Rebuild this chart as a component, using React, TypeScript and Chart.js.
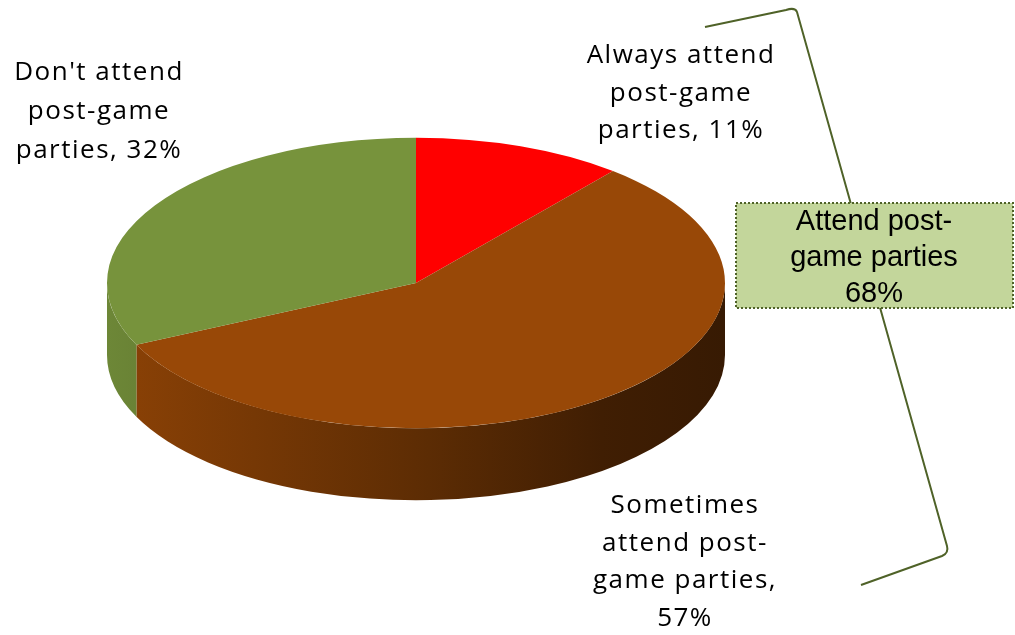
import React, { useEffect, useRef } from 'react';
import { Chart, registerables } from 'chart.js';

Chart.register(...registerables);

// ---- data ----
const categories = [
  'Always attend post-game parties',
  'Sometimes attend post-game parties',
  "Don't attend post-game parties",
];
const values = [11, 57, 32];
const sliceColors = ['#FF0000', '#984807', '#77933C'];
// wrapped label text; the value is appended to the last line
const labelLines = [
  ['Always attend', 'post-game', 'parties, '],
  ['Sometimes', 'attend post-', 'game parties,', ''],
  ["Don't attend", 'post-game', 'parties, '],
];
const groupLines = ['Attend post-', 'game parties'];

// ---- style / layout ----
const W = 1015;
const H = 635;
const PIE_CY = 283;
const SQUASH = 0.47;
const DEPTH = 72;
const LABEL_POS = [
  { x: 681, y: 63, lh: 37.5 },
  { x: 685, y: 513, lh: 37.5 },
  { x: 99, y: 80, lh: 39 },
];
const BOX = { x: 736, y: 203, w: 277, h: 105, tx: 874, ty: 230, lh: 36 };
const BRACE_COLOR = '#4F6228';

function shade(hex: string, f: number) {
  const n = parseInt(hex.slice(1), 16);
  const r = Math.round(((n >> 16) & 255) * f);
  const g = Math.round(((n >> 8) & 255) * f);
  const b = Math.round((n & 255) * f);
  return `rgb(${r},${g},${b})`;
}

const pie3d = {
  id: 'pie3d',
  beforeDatasetsDraw(chart: any) {
    const meta = chart.getDatasetMeta(0);
    const ctx = chart.ctx as CanvasRenderingContext2D;
    const first = meta.data[0];
    const cx = first.x;
    const cy = first.y;
    const r = first.outerRadius;
    const ry = r * SQUASH;
    meta.data.forEach((arc: any, i: number) => {
      const s = Math.max(arc.startAngle, 0);
      const e = Math.min(arc.endAngle, Math.PI);
      if (e <= s) return;
      const base = sliceColors[i];
      const g = ctx.createLinearGradient(cx - r, 0, cx + r, 0);
      g.addColorStop(0, shade(base, 0.92));
      g.addColorStop(0.5, shade(base, 0.62));
      g.addColorStop(0.8, shade(base, 0.42));
      g.addColorStop(1, shade(base, 0.36));
      ctx.save();
      ctx.fillStyle = g;
      ctx.beginPath();
      ctx.ellipse(cx, PIE_CY, r, ry, 0, s, e, false);
      ctx.ellipse(cx, PIE_CY + DEPTH, r, ry, 0, e, s, true);
      ctx.closePath();
      ctx.fill();
      ctx.restore();
    });
    ctx.save();
    ctx.translate(cx, PIE_CY);
    ctx.scale(1, SQUASH);
    ctx.translate(-cx, -cy);
  },
  afterDatasetsDraw(chart: any) {
    chart.ctx.restore();
  },
};

const annotations = {
  id: 'annotations',
  afterDraw(chart: any) {
    const ctx = chart.ctx as CanvasRenderingContext2D;
    ctx.save();
    // data labels
    ctx.fillStyle = '#000';
    ctx.textAlign = 'center';
    ctx.textBaseline = 'alphabetic';
    ctx.font = '26px "Open Sans"';
    (ctx as any).letterSpacing = '1.5px';
    labelLines.forEach((lines, i) => {
      const p = LABEL_POS[i];
      lines.forEach((t, j) => {
        const txt = j === lines.length - 1 ? `${t}${values[i]}%` : t;
        ctx.fillText(txt, p.x, p.y + j * p.lh);
      });
    });
    (ctx as any).letterSpacing = '0px';

    // brace
    ctx.strokeStyle = BRACE_COLOR;
    ctx.lineWidth = 2;
    ctx.beginPath();
    ctx.moveTo(705, 27);
    ctx.lineTo(786, 10);
    ctx.quadraticCurveTo(795, 7, 797, 12);
    ctx.lineTo(947, 546);
    ctx.quadraticCurveTo(949, 553, 942, 556);
    ctx.lineTo(861, 585);
    ctx.stroke();

    // group box
    ctx.fillStyle = '#C3D69B';
    ctx.fillRect(BOX.x, BOX.y, BOX.w, BOX.h);
    ctx.setLineDash([2, 2]);
    ctx.strokeStyle = BRACE_COLOR;
    ctx.lineWidth = 2;
    ctx.strokeRect(BOX.x, BOX.y, BOX.w, BOX.h);
    ctx.setLineDash([]);
    ctx.fillStyle = '#000';
    ctx.font = '29px "Liberation Sans"';
    const total = values[0] + values[1];
    const gl = [...groupLines, `${total}%`];
    gl.forEach((t, j) => ctx.fillText(t, BOX.tx, BOX.ty + j * BOX.lh));
    ctx.restore();
  },
};

export default function App() {
  const ref = useRef<HTMLCanvasElement>(null);
  useEffect(() => {
    if (!ref.current) return;
    const chart = new Chart(ref.current, {
      type: 'pie',
      data: {
        labels: categories,
        datasets: [
          {
            data: values,
            backgroundColor: sliceColors,
            borderWidth: 0,
            clip: false as any,
          },
        ],
      },
      options: {
        responsive: false,
        animation: false,
        events: [],
        layout: { padding: { left: 107, right: 290, top: 8, bottom: 9 } },
        plugins: { legend: { display: false }, tooltip: { enabled: false } },
      },
      plugins: [pie3d, annotations],
    });
    return () => chart.destroy();
  }, []);
  return (
    <div style={{ position: 'fixed', left: 0, top: 0, width: W, height: H, background: '#fff' }}>
      <canvas ref={ref} width={W} height={H} style={{ display: 'block' }} />
    </div>
  );
}
